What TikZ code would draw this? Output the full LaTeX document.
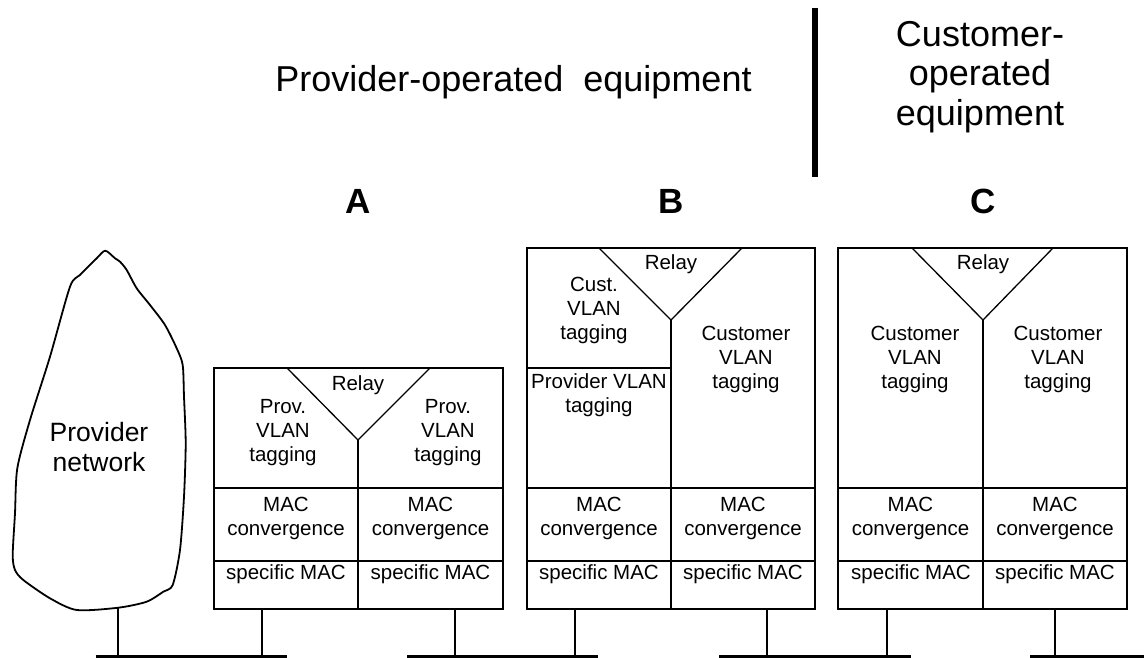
\documentclass[tikz,border=0pt]{standalone}
\usepackage{fontspec}
\setmainfont{Liberation Sans}
\begin{document}
\begin{tikzpicture}[x=1pt,y=-1pt,
  boxline/.style={line width=1.3pt},
  cloudline/.style={line width=1.8pt, line join=round},
  busline/.style={line width=4pt},
  stubline/.style={line width=1.5pt},
  lbl/.style={font=\fontsize{20.5}{24}\selectfont, align=center, inner sep=0pt},
  cloudlbl/.style={font=\fontsize{26.5}{30}\selectfont, align=center, inner sep=0pt},
  head/.style={font=\fontsize{36}{39.5}\selectfont, align=center, inner sep=0pt},
  letter/.style={font=\fontsize{35}{38}\selectfont\bfseries, inner sep=0pt, anchor=base}]
\useasboundingbox (0,0) rectangle (1144,658);

% header
\node[head, anchor=base] (hprov) at (513.5,92) {Provider-operated\ \ equipment};
\node[head] (hcust) at (980,77) {Customer-\\operated\\equipment};
\coordinate (bartop) at (815,8);
\coordinate (barbot) at (815,177);
\draw[line width=6.5pt] (bartop) -- (barbot);

\node[letter] (la) at (358,213) {A};
\node[letter] (lb) at (671,213) {B};
\node[letter] (lc) at (983,213) {C};

% cloud
\draw[cloudline] plot[smooth cycle, tension=0.45] coordinates {
 (105.3,250.7) (115,258.3) (120,261.7) (126.7,270) (136.7,288.3) (150,305)
 (165,325) (176.7,348.3) (182.7,365) (184,396.7) (185.7,443.3) (184,496.7)
 (180,550) (172.7,585) (163.3,591.7) (146.7,601.7) (118.3,607.7) (76.7,610)
 (50,598.3) (23.3,580) (15,570) (12.7,555) (15,513.3) (17.3,468.3) (30,420)
 (50,356.7) (70,286.7) (80,275) (96.7,258.3)};
\node[cloudlbl] (pnet) at (99,446.7) {Provider\\network};
\coordinate (cl) at (118,607.7);

% ---------- Box A ----------
\draw[boxline] (214,368) rectangle (503,609);
\draw[boxline] (287,368) -- (358,440) -- (430,368);
\draw[boxline] (358,440) -- (358,609);
\draw[boxline] (214,488) -- (503,488);
\draw[boxline] (214,561) -- (503,561);
\node[lbl, anchor=base] (arelay) at (358,390) {Relay};
\node[lbl] (apl) at (283,432.3) {Prov.\\VLAN\\tagging};
\node[lbl] (apr) at (448,432.3) {Prov.\\VLAN\\tagging};
\node[lbl] (aml) at (286,518) {MAC\\convergence};
\node[lbl] (amr) at (430.5,518) {MAC\\convergence};
\node[lbl, anchor=base] (asl) at (286,579) {specific MAC};
\node[lbl, anchor=base] (asr) at (430.5,579) {specific MAC};
\coordinate (a1) at (262,609);
\coordinate (a2) at (455,609);

% ---------- Box B ----------
\draw[boxline] (527,248) rectangle (815,609);
\draw[boxline] (599,248) -- (671,320) -- (742,248);
\draw[boxline] (671,320) -- (671,609);
\draw[boxline] (527,368) -- (671,368);
\draw[boxline] (527,488) -- (815,488);
\draw[boxline] (527,561) -- (815,561);
\node[lbl, anchor=base] (brelay) at (671,269) {Relay};
\node[lbl] (bcl) at (594,310.5) {Cust.\\VLAN\\tagging};
\node[lbl] (bpl) at (599,395) {Provider VLAN\\tagging};
\node[lbl] (bcr) at (746,359.5) {Customer\\VLAN\\tagging};
\node[lbl] (bml) at (599,518) {MAC\\convergence};
\node[lbl] (bmr) at (743,518) {MAC\\convergence};
\node[lbl, anchor=base] (bsl) at (599,579) {specific MAC};
\node[lbl, anchor=base] (bsr) at (743,579) {specific MAC};
\coordinate (b1) at (575,609);
\coordinate (b2) at (767,609);

% ---------- Box C ----------
\draw[boxline] (838,248) rectangle (1127,609);
\draw[boxline] (912,248) -- (983,320) -- (1053,248);
\draw[boxline] (983,320) -- (983,609);
\draw[boxline] (838,488) -- (1127,488);
\draw[boxline] (838,561) -- (1127,561);
\node[lbl, anchor=base] (crelay) at (983,269) {Relay};
\node[lbl] (ccl) at (915,359.5) {Customer\\VLAN\\tagging};
\node[lbl] (ccr) at (1058,359.5) {Customer\\VLAN\\tagging};
\node[lbl] (cml) at (910.5,518) {MAC\\convergence};
\node[lbl] (cmr) at (1055,518) {MAC\\convergence};
\node[lbl, anchor=base] (csl) at (911,579) {specific MAC};
\node[lbl, anchor=base] (csr) at (1055,579) {specific MAC};
\coordinate (c1) at (887,609);
\coordinate (c2) at (1055,609);

% ---------- buses ----------
\coordinate (bus1l) at (95.5,656.5);  \coordinate (bus1r) at (286.6,656.5);
\coordinate (bus2l) at (407,656.5);   \coordinate (bus2r) at (598,656.5);
\coordinate (bus3l) at (719,656.5);   \coordinate (bus3r) at (910.5,656.5);
\coordinate (bus4l) at (1030,656.5);  \coordinate (bus4r) at (1144,656.5);
\draw[busline] (bus1l) -- (bus1r);
\draw[busline] (bus2l) -- (bus2r);
\draw[busline] (bus3l) -- (bus3r);
\draw[busline] (bus4l) -- (bus4r);

\draw[stubline] (cl) -- (cl |- bus1l);
\draw[stubline] (a1) -- (a1 |- bus1l);
\draw[stubline] (a2) -- (a2 |- bus2l);
\draw[stubline] (b1) -- (b1 |- bus2l);
\draw[stubline] (b2) -- (b2 |- bus3l);
\draw[stubline] (c1) -- (c1 |- bus3l);
\draw[stubline] (c2) -- (c2 |- bus4l);
\end{tikzpicture}
\end{document}
